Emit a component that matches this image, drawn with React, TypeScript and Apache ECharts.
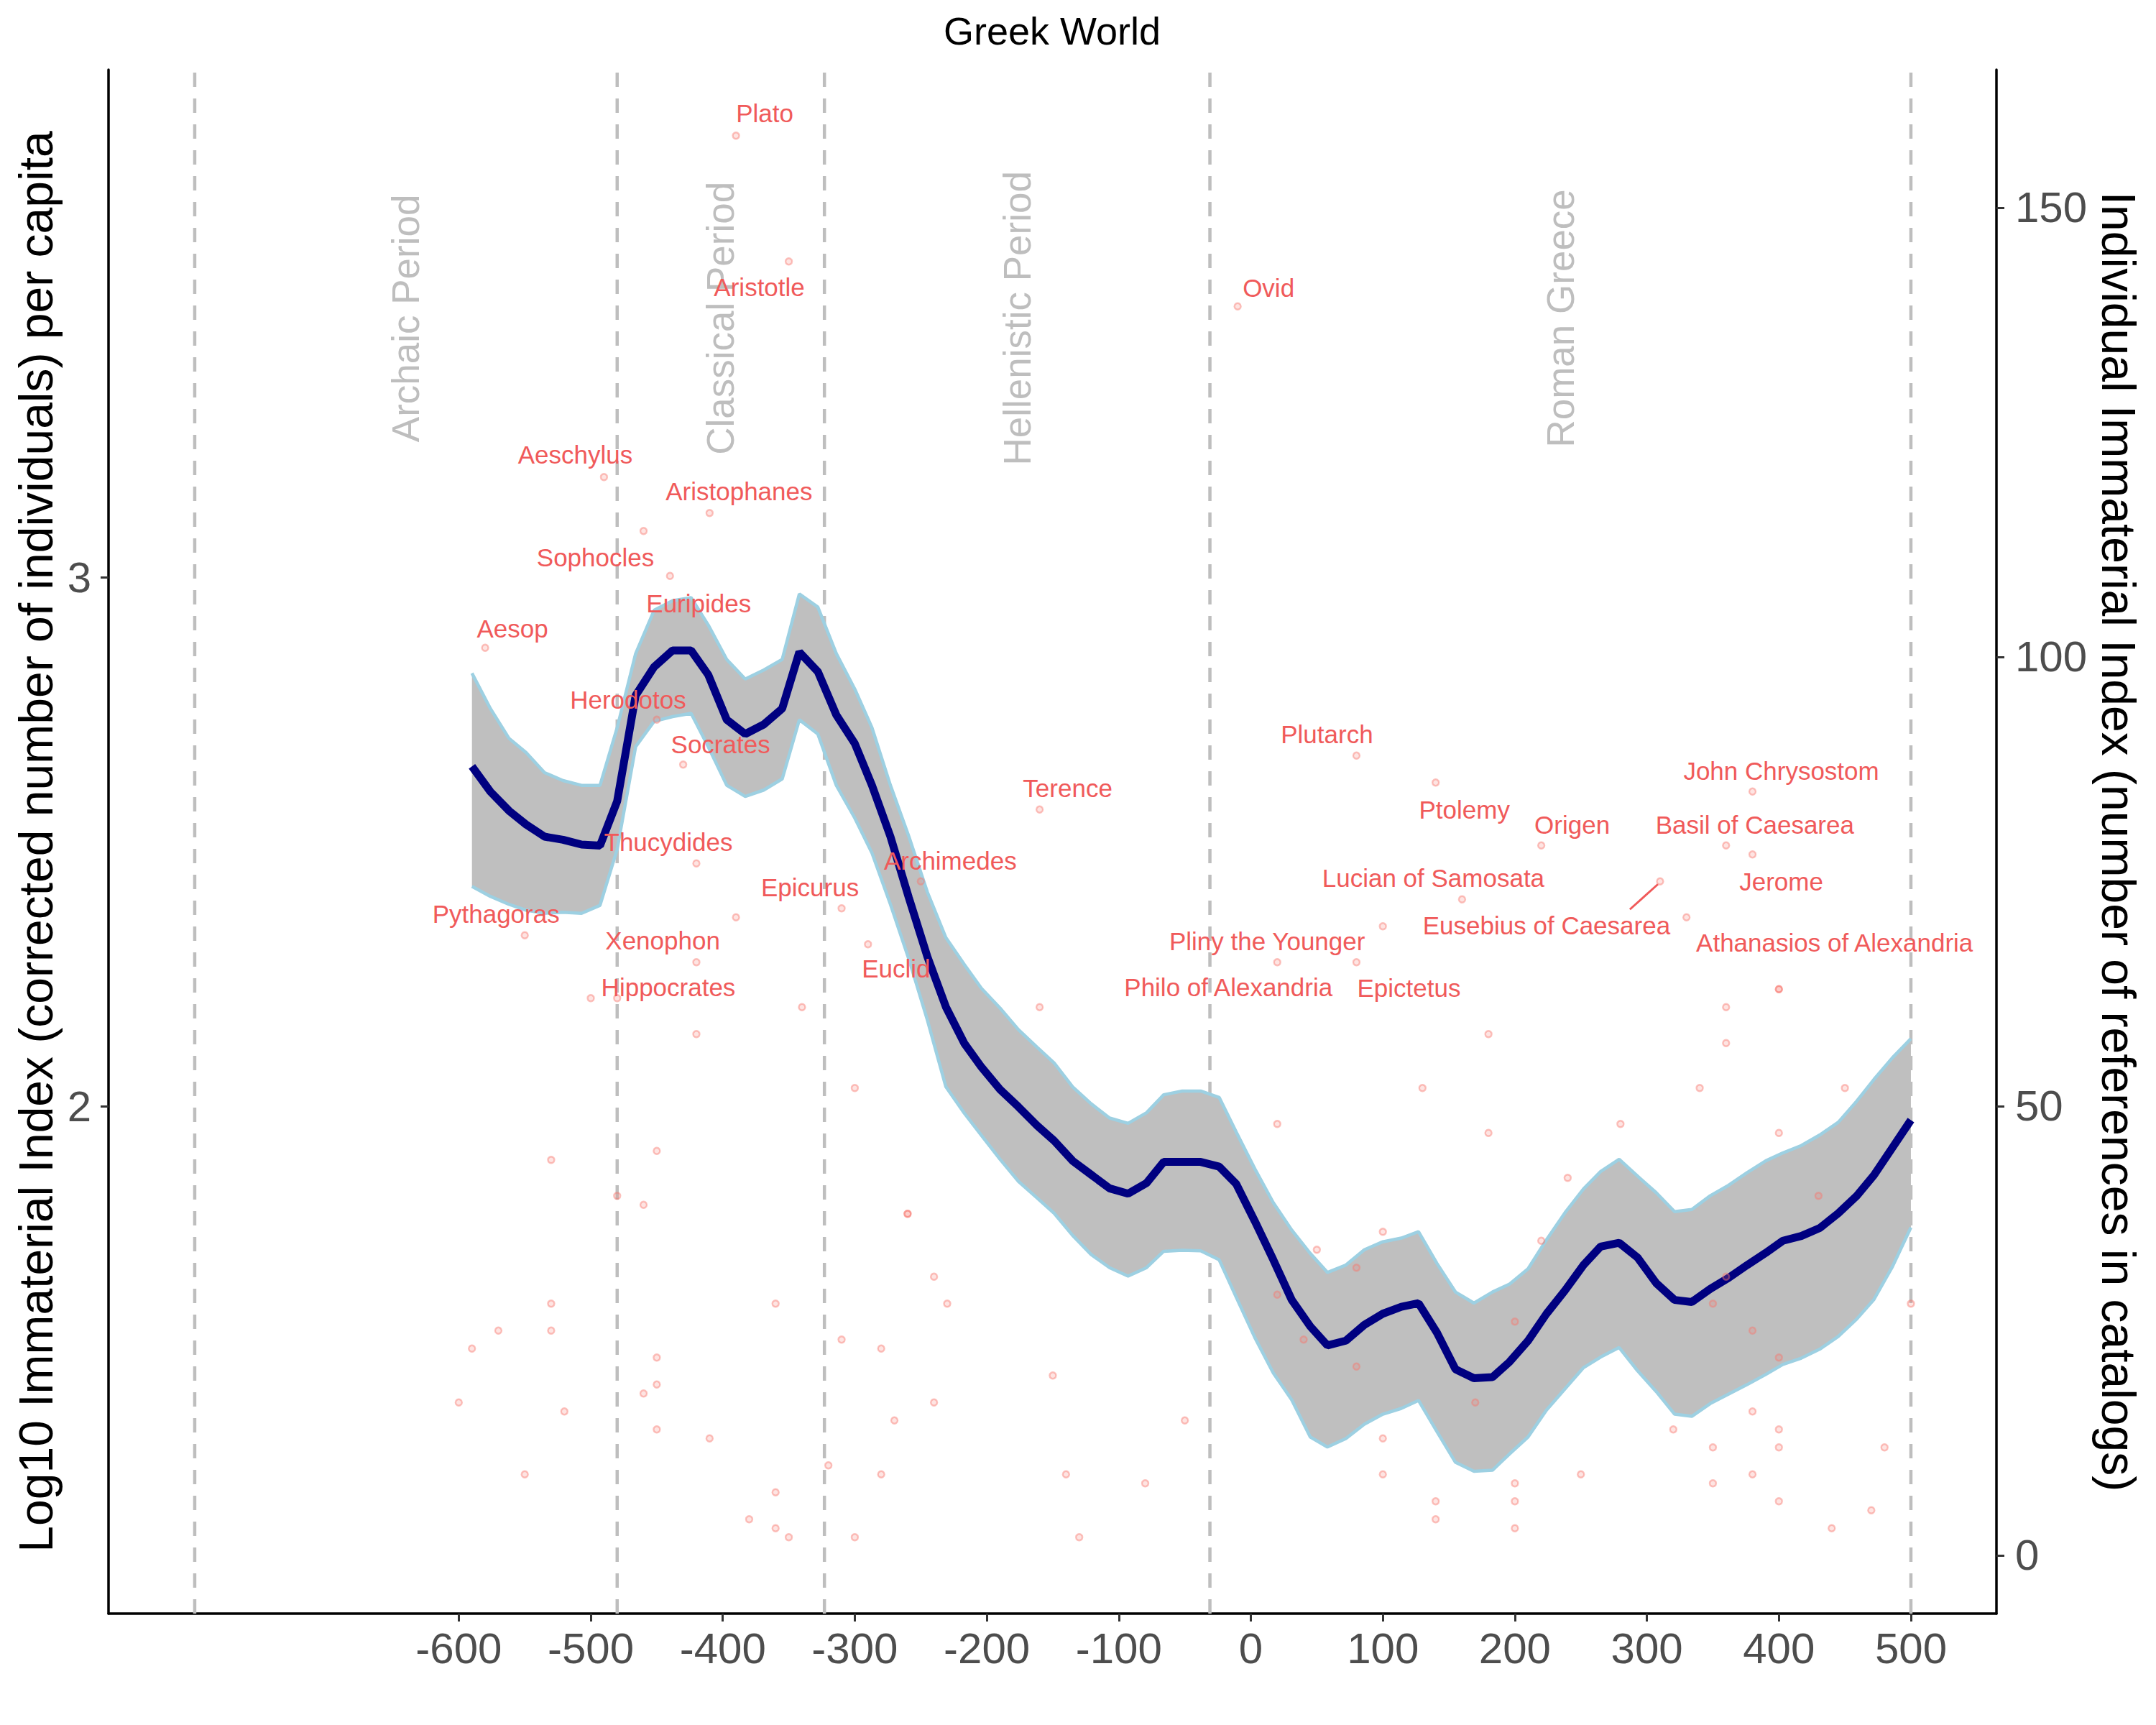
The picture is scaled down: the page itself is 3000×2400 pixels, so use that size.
import { useEffect, useRef } from 'react';
import * as echarts from 'echarts';

const FONT = '"Liberation Sans", Arial, Helvetica, sans-serif';
const LABEL_RED = '#F05A5A';

// geom_smooth evaluation grid (years) and fitted values on the log10 axis
const smoothYears = [
  -590, -576, -562, -549, -535, -521, -507, -493, -480,
  -466, -452, -438, -424, -411, -397, -383, -369, -355, -342,
  -328, -314, -300, -287, -273, -259, -245, -231, -217, -204,
  -190, -176, -162, -149, -135, -121, -107, -93, -79, -66,
  -52, -38, -24, -11, 3, 17, 31, 45, 58, 72,
  86, 100, 114, 127, 141, 155, 169, 183, 196, 210,
  224, 238, 252, 265, 279, 293, 307, 321, 334, 348,
  362, 376, 390, 403, 417, 431, 445, 459, 472, 486,
  500,
];
const smoothMean = [
  2.643, 2.595, 2.559, 2.533, 2.510, 2.504, 2.495, 2.493, 2.577, 2.777,
  2.831, 2.862, 2.862, 2.816, 2.731, 2.704, 2.722, 2.752, 2.859, 2.822,
  2.740, 2.686, 2.607, 2.510, 2.394, 2.283, 2.188, 2.119, 2.074, 2.032,
  1.999, 1.964, 1.935, 1.897, 1.871, 1.845, 1.835, 1.855, 1.895, 1.895,
  1.895, 1.886, 1.853, 1.783, 1.710, 1.634, 1.584, 1.548, 1.557, 1.587,
  1.608, 1.621, 1.628, 1.572, 1.503, 1.486, 1.488, 1.517, 1.557, 1.608,
  1.652, 1.700, 1.735, 1.742, 1.714, 1.666, 1.634, 1.630, 1.655, 1.676,
  1.700, 1.723, 1.746, 1.755, 1.770, 1.798, 1.831, 1.870, 1.922, 1.974,
];
const smoothUpper = [
  2.819, 2.752, 2.696, 2.669, 2.631, 2.616, 2.607, 2.607, 2.716, 2.856,
  2.938, 2.956, 2.962, 2.910, 2.845, 2.808, 2.825, 2.845, 2.969, 2.944,
  2.856, 2.789, 2.716, 2.607, 2.510, 2.405, 2.319, 2.268, 2.223, 2.186,
  2.145, 2.112, 2.082, 2.037, 2.005, 1.978, 1.968, 1.988, 2.022, 2.029,
  2.029, 2.017, 1.951, 1.882, 1.818, 1.766, 1.722, 1.686, 1.700, 1.729,
  1.744, 1.751, 1.763, 1.703, 1.649, 1.628, 1.649, 1.664, 1.693, 1.748,
  1.799, 1.844, 1.877, 1.900, 1.868, 1.837, 1.801, 1.805, 1.831, 1.851,
  1.875, 1.897, 1.912, 1.926, 1.946, 1.970, 2.010, 2.051, 2.092, 2.128,
];
const smoothLower = [
  2.416, 2.397, 2.382, 2.371, 2.365, 2.367, 2.365, 2.380, 2.486, 2.680,
  2.728, 2.737, 2.743, 2.680, 2.607, 2.586, 2.598, 2.619, 2.731, 2.704,
  2.607, 2.545, 2.479, 2.382, 2.278, 2.163, 2.037, 1.987, 1.945, 1.900,
  1.858, 1.827, 1.798, 1.756, 1.720, 1.695, 1.679, 1.695, 1.726, 1.728,
  1.727, 1.710, 1.639, 1.563, 1.496, 1.445, 1.375, 1.356, 1.372, 1.399,
  1.418, 1.429, 1.444, 1.385, 1.327, 1.310, 1.312, 1.343, 1.375, 1.426,
  1.466, 1.506, 1.526, 1.544, 1.500, 1.461, 1.418, 1.414, 1.438, 1.456,
  1.474, 1.493, 1.512, 1.524, 1.541, 1.565, 1.598, 1.635, 1.697, 1.771,
];

// period boundaries (years) and names
const periodBounds = [-800, -480, -323, -31, 500];
const periodNames = ['Archaic Period', 'Classical Period', 'Hellenistic Period', 'Roman Greece'];

// named individuals: year, number of references
const labeledNames = [
  'Plato', 'Aristotle', 'Aeschylus', 'Aristophanes', 'Sophocles', 'Euripides',
  'Aesop', 'Herodotos', 'Socrates', 'Thucydides', 'Archimedes', 'Epicurus',
  'Xenophon', 'Pythagoras', 'Euclid', 'Hippocrates', 'Terence', 'Ovid',
  'Plutarch', 'Ptolemy', 'John Chrysostom', 'Origen', 'Basil of Caesarea', 'Jerome',
  'Eusebius of Caesarea', 'Lucian of Samosata', 'Athanasios of Alexandria',
  'Pliny the Younger', 'Philo of Alexandria', 'Epictetus',
];
const labeledYears = [
  -390, -350, -490, -410, -460, -440,
  -580, -450, -430, -420, -250, -310,
  -390, -550, -290, -420, -160, -10,
  80, 140, 380, 220, 360, 380,
  310, 160, 330,
  100, 20, 80,
];
const labeledCounts = [
  158, 144, 120, 116, 114, 109,
  101, 93, 88, 77, 75, 72,
  71, 69, 68, 66, 83, 139,
  89, 86, 85, 79, 79, 78,
  75, 73, 71,
  70, 66, 66,
];

// everyone else
const otherYears = [
  -500, -480, -340, -420, -300, -450, -530, -480, -460, -260, -260, -240,
  -530, -360, -230, -570, -530, -310, -590, -280, -450, -450, -460, -600,
  -240, -520, -270, -450, -410, -320, -550, -280, -360, -380, -360, -350, -300,
  -160, 20, 50, 20, 40, -150, -50, -140, -80, -130,
  400, 400, 360, 180, 360, 130, 340, 450, 180, 280, 400, 240,
  430, 100, 220, 80, 360, 350, 380, 200, 400, 80, 500, 170,
  380, 320, 400, 100, 350, 400, 480, 100, 250, 350, 380, 140,
  200, 200, 400, 470, 140, 200, 440,
];
const otherCounts = [
  62, 62, 61, 58, 52, 45, 44, 40, 39, 38, 38, 31,
  28, 28, 28, 25, 25, 24, 23, 23, 22, 19, 18, 17,
  17, 16, 15, 14, 13, 10, 9, 9, 7, 4, 3, 2, 2,
  61, 48, 34, 29, 24, 20, 15, 9, 8, 2,
  63, 63, 61, 58, 57, 52, 52, 52, 47, 48, 47, 42,
  40, 36, 35, 32, 31, 28, 25, 26, 22, 21, 28, 17,
  16, 14, 14, 13, 12, 12, 12, 9, 9, 8, 9, 6,
  8, 6, 6, 5, 4, 3, 3,
];

const xTicks = [-600, -500, -400, -300, -200, -100, 0, 100, 200, 300, 400, 500];
const leftTicks = [2, 3];
const rightTicks = [0, 50, 100, 150];

// label placement relative to its point, in pixels (repelled positions)
const LABEL_NUDGE: Record<string, [number, number]> = {
  Plato: [40, -31],
  Aristotle: [-41, 36],
  Aeschylus: [-40, -31],
  Aristophanes: [41, -30],
  Sophocles: [-67, 37],
  Euripides: [40, 38],
  Aesop: [38, -27],
  Herodotos: [-40, -28],
  Socrates: [52, -28],
  Thucydides: [-39, -30],
  Archimedes: [41, -29],
  Epicurus: [-44, -29],
  Xenophon: [-102, 32],
  Pythagoras: [-40, -30],
  Euclid: [39, 34],
  Hippocrates: [-39, 35],
  Terence: [39, -30],
  Ovid: [43, -26],
  Plutarch: [-41, -30],
  Ptolemy: [40, 38],
  'John Chrysostom': [40, -29],
  Origen: [43, -29],
  'Basil of Caesarea': [40, -29],
  Jerome: [40, 38],
  'Eusebius of Caesarea': [-158, 61],
  'Lucian of Samosata': [-40, -30],
  'Athanasios of Alexandria': [206, 35],
  'Pliny the Younger': [-161, 21],
  'Philo of Alexandria': [-68, 35],
  Epictetus: [73, 36],
};
// connector segments drawn by the repel step
const LABEL_SEGMENT: Record<string, [number, number, number, number]> = {
  'Eusebius of Caesarea': [-3, 4, -42, 39],
};

const PERIOD_LABEL_Y = 3.49;

export default function App() {
  const chartRef = useRef<HTMLDivElement>(null);

  useEffect(() => {
    document.body.style.margin = '0';
    document.body.style.overflow = 'hidden';
    if (!chartRef.current) return;
    const chart = echarts.init(chartRef.current, undefined, { renderer: 'svg' });

    const axisLine = { show: true, onZero: false, lineStyle: { color: '#000000', width: 3.5 } };
    const tickStyle = { color: '#333333', width: 3 };
    const tickLabel = { fontSize: 60, color: '#4D4D4D', fontFamily: FONT };

    const points = [
      ...labeledYears.map((y, i) => [y, labeledCounts[i]]),
      ...otherYears.map((y, i) => [y, otherCounts[i]]),
    ];

    const option: any = {
      animation: false,
      textStyle: { fontFamily: FONT },
      grid: { left: 151, right: 222, top: 97, bottom: 155, containLabel: false, outerBoundsMode: 'none' },
      graphic: [
        {
          type: 'text',
          x: 1464,
          y: 43,
          style: {
            text: 'Greek World',
            fontSize: 54,
            fontFamily: FONT,
            fill: '#000000',
            align: 'center',
            verticalAlign: 'middle',
            textAlign: 'center',
            textVerticalAlign: 'middle',
          },
        },
      ],
      xAxis: {
        type: 'value',
        min: -865.3,
        max: 564.8,
        axisLine,
        axisTick: { show: true, customValues: xTicks, length: 11, lineStyle: tickStyle },
        axisLabel: { ...tickLabel, customValues: xTicks, margin: 18 },
        splitLine: { show: false },
      },
      yAxis: [
        {
          type: 'value',
          position: 'left',
          min: 1.041,
          max: 3.96,
          name: 'Log10 Immaterial Index (corrected number of individuals) per capita',
          nameLocation: 'middle',
          nameGap: 66,
          nameTextStyle: { fontSize: 66, color: '#000000', fontFamily: FONT },
          axisLine,
          axisTick: { show: true, customValues: leftTicks, length: 11, lineStyle: tickStyle },
          axisLabel: { ...tickLabel, customValues: leftTicks, margin: 24 },
          splitLine: { show: false },
        },
        {
          type: 'value',
          position: 'right',
          min: -6.5,
          max: 165.34,
          name: 'Individual Immaterial Index (number of references in catalogs)',
          nameLocation: 'middle',
          nameRotate: -90,
          nameGap: 124,
          nameTextStyle: { fontSize: 66, color: '#000000', fontFamily: FONT },
          axisLine,
          axisTick: { show: true, customValues: rightTicks, length: 11, lineStyle: tickStyle },
          axisLabel: { ...tickLabel, customValues: rightTicks, margin: 26 },
          splitLine: { show: false },
        },
      ],
      series: [
        // period boundaries
        {
          type: 'custom',
          z: 1,
          silent: true,
          xAxisIndex: 0,
          yAxisIndex: 0,
          data: periodBounds.map((b) => [b, 2]),
          encode: { x: 0, y: 1 },
          renderItem: (params: any, api: any) => {
            const px = api.coord([api.value(0), 2])[0];
            const cs = params.coordSys;
            return {
              type: 'line',
              shape: { x1: px, y1: cs.y + cs.height, x2: px, y2: cs.y },
              style: { stroke: '#BEBEBE', lineWidth: 4.5, lineDash: [20, 16] },
            };
          },
        },
        // confidence band
        {
          type: 'custom',
          z: 2,
          silent: true,
          xAxisIndex: 0,
          yAxisIndex: 0,
          data: [[smoothYears[0], smoothUpper[0]]],
          encode: { x: 0, y: 1 },
          renderItem: (_params: any, api: any) => {
            const pts: number[][] = [];
            smoothYears.forEach((x, i) => pts.push(api.coord([x, smoothUpper[i]])));
            for (let i = smoothYears.length - 1; i >= 0; i--) {
              pts.push(api.coord([smoothYears[i], smoothLower[i]]));
            }
            return { type: 'polygon', shape: { points: pts }, style: { fill: '#BFBFBF' } };
          },
        },
        {
          type: 'line',
          z: 3,
          silent: true,
          yAxisIndex: 0,
          symbol: 'none',
          data: smoothYears.map((x, i) => [x, smoothUpper[i]]),
          lineStyle: { color: '#9DD0E2', width: 4.5 },
        },
        {
          type: 'line',
          z: 3,
          silent: true,
          yAxisIndex: 0,
          symbol: 'none',
          data: smoothYears.map((x, i) => [x, smoothLower[i]]),
          lineStyle: { color: '#9DD0E2', width: 4.5 },
        },
        {
          type: 'line',
          z: 4,
          silent: true,
          yAxisIndex: 0,
          symbol: 'none',
          data: smoothYears.map((x, i) => [x, smoothMean[i]]),
          lineStyle: { color: '#000080', width: 11 },
        },
        // individuals
        {
          type: 'scatter',
          z: 5,
          silent: true,
          yAxisIndex: 1,
          symbol: 'circle',
          symbolSize: 9,
          data: points,
          itemStyle: {
            color: 'rgba(248,118,109,0.25)',
            borderColor: 'rgba(248,118,109,0.55)',
            borderWidth: 2.4,
          },
        },
        // period names
        {
          type: 'custom',
          z: 5,
          silent: true,
          xAxisIndex: 0,
          yAxisIndex: 0,
          data: periodNames.map((_n, i) => [(periodBounds[i] + periodBounds[i + 1]) / 2, PERIOD_LABEL_Y, i]),
          encode: { x: 0, y: 1 },
          renderItem: (_params: any, api: any) => {
            const [px, py] = api.coord([api.value(0), api.value(1)]);
            return {
              type: 'text',
              x: px,
              y: py,
              rotation: Math.PI / 2,
              style: {
                text: periodNames[api.value(2)],
                fill: '#BEBEBE',
                fontSize: 53,
                fontFamily: FONT,
                align: 'center',
                verticalAlign: 'middle',
                textAlign: 'center',
                textVerticalAlign: 'middle',
              },
            };
          },
        },
        // names
        {
          type: 'custom',
          z: 6,
          silent: true,
          xAxisIndex: 0,
          yAxisIndex: 1,
          data: labeledNames.map((_n, i) => [labeledYears[i], labeledCounts[i], i]),
          encode: { x: 0, y: 1 },
          renderItem: (_params: any, api: any) => {
            const name = labeledNames[api.value(2)];
            const [px, py] = api.coord([api.value(0), api.value(1)]);
            const [dx, dy] = LABEL_NUDGE[name] ?? [0, -30];
            const children: any[] = [
              {
                type: 'text',
                x: px + dx,
                y: py + dy,
                style: {
                  text: name,
                  fill: LABEL_RED,
                  fontSize: 35,
                  fontFamily: FONT,
                  align: 'center',
                  verticalAlign: 'middle',
                  textAlign: 'center',
                  textVerticalAlign: 'middle',
                },
              },
            ];
            const seg = LABEL_SEGMENT[name];
            if (seg) {
              children.push({
                type: 'line',
                shape: { x1: px + seg[0], y1: py + seg[1], x2: px + seg[2], y2: py + seg[3] },
                style: { stroke: LABEL_RED, lineWidth: 3 },
              });
            }
            return { type: 'group', children };
          },
        },
      ],
    };

    chart.setOption(option);
    return () => {
      chart.dispose();
    };
  }, []);

  return <div ref={chartRef} style={{ width: '3000px', height: '2400px' }} />;
}
